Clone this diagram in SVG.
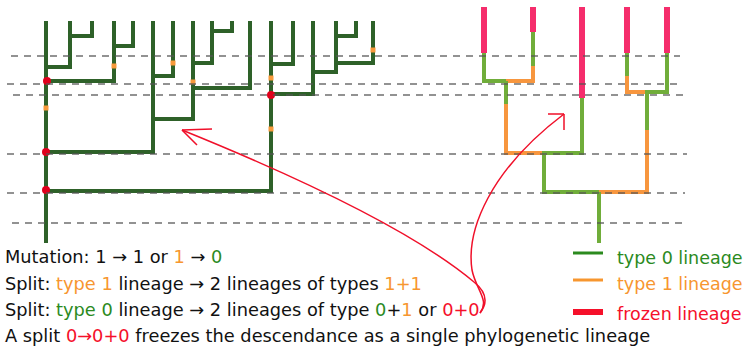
<svg xmlns="http://www.w3.org/2000/svg" width="745" height="348" viewBox="0 0 745 348">
  <style>
    .t0 { fill: none; stroke: #2e6129; stroke-width: 4; stroke-linejoin: miter; }
    .g  { fill: none; stroke: #70ad3a; stroke-width: 4; }
    .o  { fill: none; stroke: #f7963e; stroke-width: 4; }
    .p  { fill: none; stroke: #f52d6c; stroke-width: 6; }
    .mut { fill: #f7993a; }
    .split { fill: #e0001b; }
    .grid { stroke: #555; stroke-width: 1.5; stroke-dasharray: 7 6; opacity: 0.85; }
    .conn { fill: none; stroke: #f0102a; stroke-width: 1.5; }
    text { font-family: "DejaVu Sans", "Liberation Sans", sans-serif; font-size: 17.8px; fill: #111; }
    #legend text { font-size: 17.5px; }
    .c1 { fill: #f7962f; }
    .c0 { fill: #2b8a1e; }
    .cr { fill: #f5102a; }
  </style>

  <!-- Left tree: full genealogy with mutations and splits -->
  <g id="full-tree">
    <path class="t0" d="M46,21 V243"/>
    <g id="clade-a">
      <path class="t0" d="M46,67 H70 V21 M70,36 H92 V21"/>
    </g>
    <g id="clade-b">
      <path class="t0" d="M46,81 H114 V21 M114,46 H133 V21"/>
    </g>
    <g id="clade-c">
      <path class="t0" d="M46,152 H153 V21 M153,76 H173 V21 M153,119 H193 V21 M193,63 H212 V21 M212,31 H232 V21 M193,88 H250 V21"/>
    </g>
    <g id="clade-d">
      <path class="t0" d="M46,191 H271 V21 M271,64 H293 V21 M271,94 H313 V21 M313,72 H336 V21 M336,36 H356 V21 M336,63 H373 V21"/>
    </g>
    <g id="mutations">
      <rect class="mut" x="111.5" y="63.5" width="5" height="5"/>
      <rect class="mut" x="170.5" y="60.5" width="5" height="5"/>
      <rect class="mut" x="190.5" y="79.5" width="5" height="5"/>
      <rect class="mut" x="43.5" y="105.5" width="5" height="5"/>
      <rect class="mut" x="268.5" y="75.5" width="5" height="5"/>
      <rect class="mut" x="370.5" y="47.5" width="5" height="5"/>
      <rect class="mut" x="268.5" y="126.5" width="5" height="5"/>
    </g>
    <g id="frozen-splits">
      <circle class="split" cx="47" cy="81" r="4"/>
      <circle class="split" cx="46" cy="152" r="4"/>
      <circle class="split" cx="46" cy="190" r="4"/>
      <circle class="split" cx="271" cy="95" r="4"/>
    </g>
  </g>

  <!-- Right tree: reduced phylogeny of lineages -->
  <g id="lineage-tree">
    <path class="g" d="M484,53 V81 H507"/>
    <path class="g" d="M533,32 V66"/>
    <path class="o" d="M533,66 V81 H506"/>
    <path class="g" d="M506,81 V104"/>
    <path class="o" d="M506,104 V153 H542"/>
    <path class="g" d="M582,98 V153 H542"/>
    <path class="g" d="M544,153 V192 H599"/>
    <path class="g" d="M627,53 V76"/>
    <path class="o" d="M627,76 V92 H645"/>
    <path class="g" d="M667,53 V92 H645"/>
    <path class="g" d="M647,92 V130"/>
    <path class="o" d="M647,130 V192 H599"/>
    <path class="g" d="M599,192 V243"/>
    <path class="p" d="M484,7 V53"/>
    <path class="p" d="M533,7 V32"/>
    <path class="p" d="M582,7 V98"/>
    <path class="p" d="M627,7 V53"/>
    <path class="p" d="M667,7 V53"/>
  </g>

  <!-- Time slices -->
  <g id="time-slices">
    <line class="grid" x1="11" y1="56" x2="680" y2="56"/>
    <line class="grid" x1="7" y1="84" x2="682" y2="84"/>
    <line class="grid" x1="13" y1="95" x2="687" y2="95"/>
    <line class="grid" x1="7" y1="154" x2="687" y2="154"/>
    <line class="grid" x1="7" y1="193" x2="685" y2="193"/>
    <line class="grid" x1="12" y1="223" x2="687" y2="223"/>
  </g>

  <!-- Pointers from the frozen-split rule to both trees -->
  <g id="connectors">
    <path class="conn" d="M480,313 C490,300 484,290 474,282 C424,240 330,190 182,130"/>
    <path class="conn" d="M182,130 L212,129 M182,130 L197,145"/>
    <path class="conn" d="M480,313 C490,300 476,290 472,270 C466,230 490,170 564,114"/>
    <path class="conn" d="M564,114 L548,114 M564,114 L564,130"/>
  </g>

  <!-- Rules -->
  <g id="rules">
    <text x="5" y="263">Mutation: 1 → 1 or <tspan class="c1">1</tspan> → <tspan class="c0">0</tspan></text>
    <text x="5" y="290">Split: <tspan class="c1">type 1</tspan> lineage → 2 lineages of types <tspan class="c1">1+1</tspan></text>
    <text x="5" y="316">Split: <tspan class="c0">type 0</tspan> lineage → 2 lineages of type <tspan class="c0">0</tspan>+<tspan class="c1">1</tspan> or <tspan class="cr">0+0</tspan></text>
    <text x="5" y="342">A split <tspan class="cr">0→0+0</tspan> freezes the descendance as a single phylogenetic lineage</text>
  </g>

  <!-- Legend -->
  <g id="legend">
    <line x1="573" y1="253" x2="603" y2="253" stroke="#2b8a1e" stroke-width="3"/>
    <line x1="573" y1="280" x2="603" y2="280" stroke="#f7962f" stroke-width="3"/>
    <line x1="573" y1="312" x2="603" y2="312" stroke="#f5102a" stroke-width="6"/>
    <text x="617" y="264" class="c0">type 0 lineage</text>
    <text x="617" y="290" class="c1">type 1 lineage</text>
    <text x="617" y="320" class="cr">frozen lineage</text>
  </g>
</svg>
